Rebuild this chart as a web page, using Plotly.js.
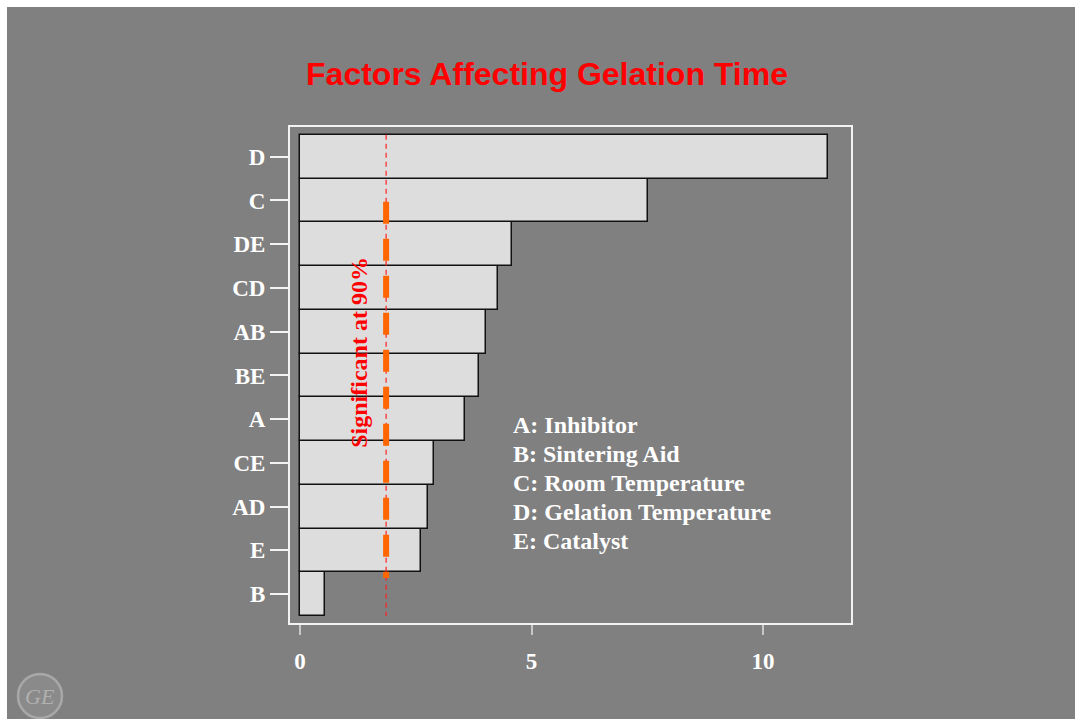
<!DOCTYPE html>
<html>
<head>
<meta charset="utf-8">
<script src="https://cdn.plot.ly/plotly-3.0.1.min.js"></script>
<style>
html,body{margin:0;padding:0;background:#ffffff;width:1075px;height:719px;overflow:hidden;}
#chart{position:absolute;left:7px;top:7px;width:1068px;height:712px;}
</style>
</head>
<body>
<div id="chart"></div>
<script>
// Data (bottom to top)
var factors = ["B", "E", "AD", "CE", "A", "BE", "AB", "CD", "DE", "C", "D"];
var effects = [0.54, 2.61, 2.76, 2.89, 3.56, 3.87, 4.02, 4.28, 4.58, 7.52, 11.40];
var threshold = 1.86;
var xTicks = [0, 5, 10];
var legendLines = ["A: Inhibitor", "B: Sintering Aid", "C: Room Temperature", "D: Gelation Temperature", "E: Catalyst"];

var serif = "Liberation Serif, Times New Roman, serif";
var sans = "Liberation Sans, Arial, sans-serif";

var trace = {
  type: "bar",
  orientation: "h",
  x: effects,
  y: factors,
  marker: {color: "#dddddd", line: {color: "#111111", width: 1.5}},
  hoverinfo: "x+y"
};

var annotations = [{
  xref: "x", yref: "paper",
  x: threshold, y: 0.545,
  xanchor: "right", yanchor: "middle",
  xshift: -12,
  text: "<b>Significant at 90%</b>",
  textangle: -90,
  showarrow: false,
  font: {family: serif, size: 24, color: "#ff0000"}
}];
legendLines.forEach(function (t, i) {
  annotations.push({
    xref: "paper", yref: "paper",
    x: (511 - 290) / 561, y: (623 - 425) / 496 - i * (29 / 496),
    xanchor: "left", yanchor: "middle",
    text: "<b>" + t + "</b>",
    showarrow: false,
    font: {family: serif, size: 24, color: "#ffffff"}
  });
});
// GE logo text
annotations.push({
  xref: "paper", yref: "paper",
  x: (40 - 290) / 561, y: (623 - 696) / 496,
  xanchor: "center", yanchor: "middle",
  text: "<i>GE</i>",
  showarrow: false,
  font: {family: serif, size: 22, color: "#b0b0b0"}
});

var shapes = [
  // thin red reference line
  {type: "line", xref: "x", yref: "y", x0: threshold, x1: threshold, y0: 10.5, y1: -0.5,
   line: {color: "#ff2020", width: 1.2, dash: "5px,4px"}, layer: "above"},
  // thick orange dashes
  {type: "line", xref: "x", yref: "y", x0: threshold, x1: threshold, y0: 8.97, y1: 0.37,
   line: {color: "#ff6600", width: 6, dash: "22px,15px"}, layer: "above"},
  // GE logo circle
  {type: "circle", xref: "paper", yref: "paper",
   x0: (18 - 290) / 561, x1: (62 - 290) / 561,
   y0: (623 - 718) / 496, y1: (623 - 674) / 496,
   fillcolor: "#8a8a8a", line: {color: "#a8a8a8", width: 2.5}, layer: "above"}
];

var layout = {
  width: 1068, height: 712,
  paper_bgcolor: "#808080",
  plot_bgcolor: "#808080",
  margin: {l: 283, r: 224, t: 120, b: 96},
  showlegend: false,
  bargap: 0,
  title: {
    text: "<b>Factors Affecting Gelation Time</b>",
    font: {family: sans, size: 32, color: "#ff0000"},
    x: (547 - 7) / 1068, xref: "container", xanchor: "center",
    y: 1 - (74 - 7) / 712, yref: "container", yanchor: "middle"
  },
  xaxis: {
    range: [-0.216, 11.9],
    tickvals: xTicks,
    ticktext: xTicks.map(function (v) { return "<b>" + v + "</b>"; }),
    ticks: "outside", ticklen: 10, tickwidth: 2, tickcolor: "#c8c8c8",
    ticklabelstandoff: 6,
    showgrid: false, zeroline: false,
    showline: true, linecolor: "#f2f2f2", linewidth: 2, mirror: true,
    tickfont: {family: serif, size: 23, color: "#ffffff"}
  },
  yaxis: {
    type: "category",
    range: [-0.66, 10.68],
    tickvals: factors,
    ticktext: factors.map(function (f) { return "<b>" + f + "</b>"; }),
    ticks: "outside", ticklen: 18, tickwidth: 1.5, tickcolor: "#f2f2f2",
    showgrid: false, zeroline: false,
    showline: true, linecolor: "#f2f2f2", linewidth: 2, mirror: true,
    tickfont: {family: serif, size: 23, color: "#ffffff"}
  },
  annotations: annotations,
  shapes: shapes
};

Plotly.newPlot("chart", [trace], layout, {displayModeBar: false, responsive: false});
</script>
</body>
</html>
